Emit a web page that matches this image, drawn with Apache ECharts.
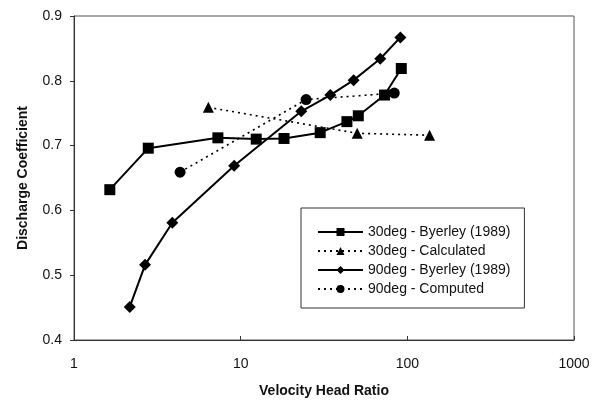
<!DOCTYPE html>
<html lang="en">
<head>
    <meta charset="UTF-8">
    <title>Discharge Coefficient</title>
    <script src="https://cdn.jsdelivr.net/npm/echarts@6/dist/echarts.min.js"></script>
</head>
<body style="margin:0">
<div id="main" style="width: 600px;height: 403px"></div>
<script>
    // values
    var names = ['30deg - Byerley (1989)', '30deg - Calculated', '90deg - Byerley (1989)', '90deg - Computed'];

    var x30b = [1.64, 2.79, 7.3, 12.4, 18.2, 30, 43.4, 50.8, 73, 92];
    var y30b = [0.632, 0.696, 0.712, 0.710, 0.711, 0.720, 0.737, 0.746, 0.778, 0.819];

    var x30c = [6.4, 50, 136];
    var y30c = [0.759, 0.719, 0.716];

    var x90b = [2.16, 2.67, 3.89, 9.14, 23.1, 34.5, 47.6, 68.8, 90.8];
    var y90b = [0.451, 0.516, 0.581, 0.669, 0.753, 0.778, 0.801, 0.834, 0.867];

    var x90c = [4.33, 24.7, 83.5];
    var y90c = [0.659, 0.771, 0.781];

    var xTicks = [1, 10, 100, 1000];
    var yTicks = [0.4, 0.5, 0.6, 0.7, 0.8, 0.9];

    function pairs(xs, ys) {
        var out = [];
        for (var i = 0; i < xs.length; i++) {
            out.push([xs[i], ys[i]]);
        }
        return out;
    }

    var font = 'Liberation Sans';
    var myChart = echarts.init(document.getElementById('main'));

    function mkSeries(name, data, symbol, size, dotted) {
        return {
            name: name,
            type: 'line',
            data: data,
            symbol: symbol,
            symbolSize: size,
            showAllSymbol: true,
            itemStyle: {color: '#000'},
            lineStyle: {color: '#000', width: dotted ? 1.6 : 2, type: dotted ? [2, 4] : 'solid'},
            z: dotted ? 2 : 3
        };
    }

    var option = {
        animation: false,
        backgroundColor: '#fff',
        textStyle: {fontFamily: font},
        grid: {left: 74, right: 26, top: 16, bottom: 60, show: true, borderColor: '#555', borderWidth: 1},
        xAxis: {
            type: 'log',
            logBase: 10,
            min: xTicks[0],
            max: xTicks[xTicks.length - 1],
            name: 'Velocity Head Ratio',
            nameLocation: 'middle',
            nameGap: 44,
            nameTextStyle: {fontFamily: font, fontSize: 14, fontWeight: 'bold', color: '#111'},
            axisLine: {show: true, lineStyle: {color: '#333'}},
            axisTick: {show: true, inside: true, length: 4, lineStyle: {color: '#333'}},
            axisLabel: {
                fontFamily: font, fontSize: 14, color: '#111', margin: 17,
                formatter: function (v) { return String(Math.round(v)); }
            },
            splitLine: {show: false},
            minorTick: {show: false}
        },
        yAxis: {
            type: 'value',
            min: yTicks[0],
            max: yTicks[yTicks.length - 1],
            interval: 0.1,
            name: 'Discharge Coefficient',
            nameLocation: 'middle',
            nameGap: 44,
            nameTextStyle: {fontFamily: font, fontSize: 14, fontWeight: 'bold', color: '#111'},
            axisLine: {show: true, lineStyle: {color: '#333'}},
            axisTick: {show: true, length: 4, lineStyle: {color: '#333'}},
            axisLabel: {
                fontFamily: font, fontSize: 14, color: '#111', margin: 12,
                formatter: function (v) { return v.toFixed(1); }
            },
            splitLine: {show: false}
        },
        legend: {
            orient: 'vertical',
            left: 301,
            top: 208,
            width: 230,
            padding: [17, 14, 12, 16],
            itemGap: 5,
            itemWidth: 45,
            itemHeight: 10,
            borderColor: '#333',
            borderWidth: 1,
            backgroundColor: '#fff',
            textStyle: {fontFamily: font, fontSize: 14, color: '#111'},
            data: names
        },
        series: [
            mkSeries(names[0], pairs(x30b, y30b), 'rect', 11, false),
            mkSeries(names[1], pairs(x30c, y30c), 'triangle', 11, true),
            mkSeries(names[2], pairs(x90b, y90b), 'diamond', 12, false),
            mkSeries(names[3], pairs(x90c, y90c), 'circle', 11, true)
        ]
    };
    myChart.setOption(option);
</script>
</body>
</html>
